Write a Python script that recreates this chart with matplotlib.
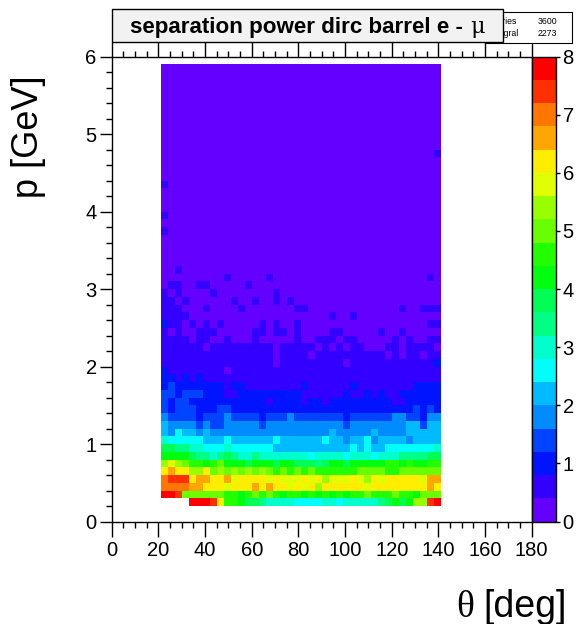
import numpy as np
import matplotlib
matplotlib.use("Agg")
import matplotlib.pyplot as plt
from matplotlib.colors import ListedColormap, BoundaryNorm
from matplotlib.patches import Rectangle
from matplotlib.ticker import MultipleLocator
import colorsys

# ---------------- data ----------------
theta_start = 21.0      # first theta bin edge [deg]
theta_width = 3.0       # theta bin width [deg]
p_start = 0.2           # first p bin edge [GeV]
p_width = 0.1           # p bin width [GeV]
level_step = 0.4        # colour level width of the z axis
n_levels = 20           # z axis 0..8

# one string per p bin (bottom -> top), one char per theta bin (21..141 deg)
# '.' = empty bin, '0'..'9','a'..'j' = colour level index k (value in [0.4k, 0.4k+0.4))
level_rows = [
    "....jjjifbba998777766667767777789a9addij",
    "jjicccccc" "bbabcbcbabb" "abababab" "bcbbbcbb" "accc",
    "hhhhggfffe" "fffgfgffef" "efdffffffe" "ffffffffgf",
    "hiiifggffg" "effffefeee" "fefdeeefed" "fefffffegg",
    "fgffddfcdc" "dcdcdcbcbc" "bcbbbbbbcc" "ccbbcccccc",
    "dedcbbabca" "aa9aaa9aa9" "9989aa9aaa" "aabbabaabb",
    "aaaa988789" "8778777777" "7677776777" "6777888899",
    "9988776667" "6666665555" "5555555656" "5566666667",
    "7666665556" "5555556555" "5556554556" "4555545555",
    "5465545444" "4444444444" "4444544444" "5444455555",
    "5444434334" "4444344444" "4444443444" "4444455355",
    "4333323334" "3333233343" "3333332333" "3334433244",
    "3233322233" "2222222222" "2222222222" "2222223232",
    "3233222222" "2222212222" "1221222222" "2221122222",
    "3323332221" "1222222222" "1111112112" "1211222222",
    "2322222221" "2211111111" "2111111211" "1111112222",
    "2212121111" "1111111111" "1111111111" "1111111111",
    "2111111110" "1111111111" "1111111111" "1111111111",
    "1111111111" "1111110111" "1111110111" "1111111112",
    "1111111111" "1111110111" "1011111111" "1101011011",
    "1111110111" "1111110111" "1101010110" "0011011110",
    "1111011001" "0001000001" "0011101100" "0001010011",
    "1010011100" "0001101101" "0000110000" "0100100000",
    "2110101010" "0000101001" "0000000000" "0000000011",
    "1111000000" "0000000000" "0000100100" "0000000000",
    "1110001000" "0100000001" "1000000000" "0000100111",
    "1101000000" "1001001010" "0000000000" "0000000000",
    "1010000100" "0000001000" "0000000000" "0000000000",
    "0110011000" "0010000000" "0000000000" "0000000000",
    "0000000001" "0000010000" "0000000000" "0000000010",
    "0010000000" "0000000000" "0000000000" "0000000000",
    "0000000000" "0000000000" "0000000000" "0000000000",
    "0000000000" "0000000000" "0000000000" "0000000000",
    "0000000000" "0000000000" "0000000000" "0000000000",
    "0000000000" "0000000000" "0000000000" "0000000000",
    "1000000000" "0000000000" "0000000000" "0000000000",
    "0000000000" "0000000000" "0000000000" "0000000000",
    "1000000000" "0000000000" "0000000000" "0000000000",
    "0000000000" "0000000000" "0000000000" "0000000000",
    "0000000000" "0000000000" "0000000000" "0000000000",
    "0000000000" "0000000000" "0000000000" "0000000000",
    "1000000000" "0000000000" "0000000000" "0000000000",
    "0000000000" "0000000000" "0000000000" "0000000000",
    "0000000000" "0000000000" "0000000000" "0000000000",
    "0000000000" "0000000000" "0000000000" "0000000000",
    "0000000000" "0000000000" "0000000000" "0000000001",
    "0000000000" "0000000000" "0000000000" "0000000000",
    "0000000000" "0000000000" "0000000000" "0000000000",
    "0000000000" "0000000000" "0000000000" "0000000000",
    "0000000000" "0000000000" "0000000000" "0000000000",
    "0000000000" "0000000000" "0000000000" "0000000000",
    "0000000000" "0000000000" "0000000000" "0000000000",
    "0000000000" "0000000000" "0000000000" "0000000000",
    "0000000000" "0000000000" "0000000000" "0000000000",
    "0000000000" "0000000000" "0000000000" "0000000000",
    "0000000000" "0000000000" "0000000000" "0000000000",
    "0000000000" "0000000000" "0000000000" "0000000000",
]

x_ticks = [0, 20, 40, 60, 80, 100, 120, 140, 160, 180]
y_ticks = [0, 1, 2, 3, 4, 5, 6]
z_ticks = [0, 1, 2, 3, 4, 5, 6, 7, 8]
title_main = "separation power dirc barrel e - "
title_sym = "μ"
stats_labels = ["Entries", "Integral"]
stats_values = ["3600", "2273"]
xlabel_sym = "θ"
xlabel_rest = "[deg]"
ylabel = "p [GeV]"

# ---------------- build the histogram ----------------
ncols = max(len(r) for r in level_rows)
nrows = len(level_rows)
vals = np.full((nrows, ncols), np.nan)
for i, row in enumerate(level_rows):
    for j, ch in enumerate(row):
        if ch != '.':
            vals[i, j] = (int(ch, 20) + 0.5) * level_step
vals = np.ma.masked_invalid(vals)
theta_edges = theta_start + theta_width * np.arange(ncols + 1)
p_edges = p_start + p_width * np.arange(nrows + 1)

# ROOT "pretty" palette (violet -> red), 50 colours, sampled for 20 contours
def root_color(k):
    j = int((k + 0.99) * 50 / n_levels)
    hue = 0.0 if j >= 49 else 280.0 - (j + 1) * 5.6
    return colorsys.hls_to_rgb(hue / 360.0, 0.5, 1.0)

cmap = ListedColormap([root_color(k) for k in range(n_levels)])
bounds = level_step * np.arange(n_levels + 1)
norm = BoundaryNorm(bounds, n_levels)

# ---------------- figure ----------------
W, H = 579, 624
fig = plt.figure(figsize=(W / 100, H / 100), dpi=100)
fig.patch.set_facecolor("white")
FONT = "Liberation Sans"

def fx(px):
    return px / W

def fy(py):
    return 1 - py / H

ax_l, ax_r, ax_t, ax_b = 111.7, 531.7, 56.7, 521.5
ax = fig.add_axes([fx(ax_l), fy(ax_b), (ax_r - ax_l) / W, (ax_b - ax_t) / H])
cax = fig.add_axes([fx(ax_r), fy(ax_b), (556.3 - ax_r) / W, (ax_b - ax_t) / H])

mesh = ax.pcolormesh(theta_edges, p_edges, vals, cmap=cmap, norm=norm,
                     antialiased=False, linewidth=0)
ax.set_xlim(0, 180)
ax.set_ylim(0, 6)
ax.set_xticks(x_ticks)
ax.set_yticks(y_ticks)
ax.xaxis.set_minor_locator(MultipleLocator(5))
ax.yaxis.set_minor_locator(MultipleLocator(0.2))
ax.tick_params(axis='x', which='major', direction='out', length=10.5, width=1.0,
               top=True, labeltop=False, labelsize=14.5, pad=3.5)
ax.tick_params(axis='x', which='minor', direction='out', length=4.6, width=1.0, top=True)
ax.tick_params(axis='y', which='major', direction='out', length=8.6, width=1.0,
               right=False, labelsize=14.5, pad=2.2)
ax.tick_params(axis='y', which='minor', direction='out', length=4.3, width=1.0, right=False)
for lab in ax.get_xticklabels() + ax.get_yticklabels():
    lab.set_fontfamily(FONT)
for s in ax.spines.values():
    s.set_linewidth(1.0)

cb = fig.colorbar(mesh, cax=cax, ticks=z_ticks)
cb.outline.set_linewidth(1.0)
cax.tick_params(direction='out', length=3.0, width=1.0, labelsize=14.5, pad=1.5)
cax.minorticks_off()
for lab in cax.get_yticklabels():
    lab.set_fontfamily(FONT)

# stats box (partly hidden behind the title box)
fig.patches.append(Rectangle((fx(486), fy(42.5)), (571.7 - 486) / W, (42.5 - 12) / H,
                             transform=fig.transFigure, facecolor="white",
                             edgecolor="black", linewidth=0.8, zorder=1))
for i, (lab, val) in enumerate(zip(stats_labels, stats_values)):
    yy = fy(21 + 12.5 * i)
    fig.text(fx(489), yy, lab, fontsize=6.3, family=FONT, ha="left", va="center", zorder=2)
    fig.text(fx(557), yy, val, fontsize=6.3, family=FONT, ha="right", va="center", zorder=2)

# title box
fig.patches.append(Rectangle((fx(111.7), fy(41.7)), (503 - 111.7) / W, (41.7 - 9) / H,
                             transform=fig.transFigure, facecolor="#f2f2f2",
                             edgecolor="black", linewidth=1.0, zorder=3))
t1 = fig.text(0, 0, title_main, fontsize=10, fontweight="bold", family=FONT, zorder=4)
t2 = fig.text(0, 0, title_sym, fontsize=10, family="DejaVu Serif", zorder=4)
fig.canvas.draw()
r = fig.canvas.get_renderer()
w1 = t1.get_window_extent(r).width
w2 = t2.get_window_extent(r).width
scale = 355.0 / (w1 + w2)
t1.set_fontsize(10 * scale)
t2.set_fontsize(10 * scale)
w1 *= scale
w2 *= scale
x0 = 307.5 - (w1 + w2) / 2
t1.set_position((fx(x0), fy(32.5)))
t1.set_va("baseline")
t2.set_position((fx(x0 + w1), fy(32.5)))
t2.set_va("baseline")

# axis titles
fig.text(fx(567), fy(617), xlabel_rest, fontsize=27, family=FONT, ha="right", va="baseline")
fig.text(fx(456), fy(617), xlabel_sym, fontsize=27, family="Liberation Serif",
         ha="left", va="baseline")
fig.text(fx(29), fy(137), ylabel, fontsize=26, family=FONT, rotation=90,
         ha="center", va="center")

fig.savefig("out.png", dpi=100, facecolor="white")
